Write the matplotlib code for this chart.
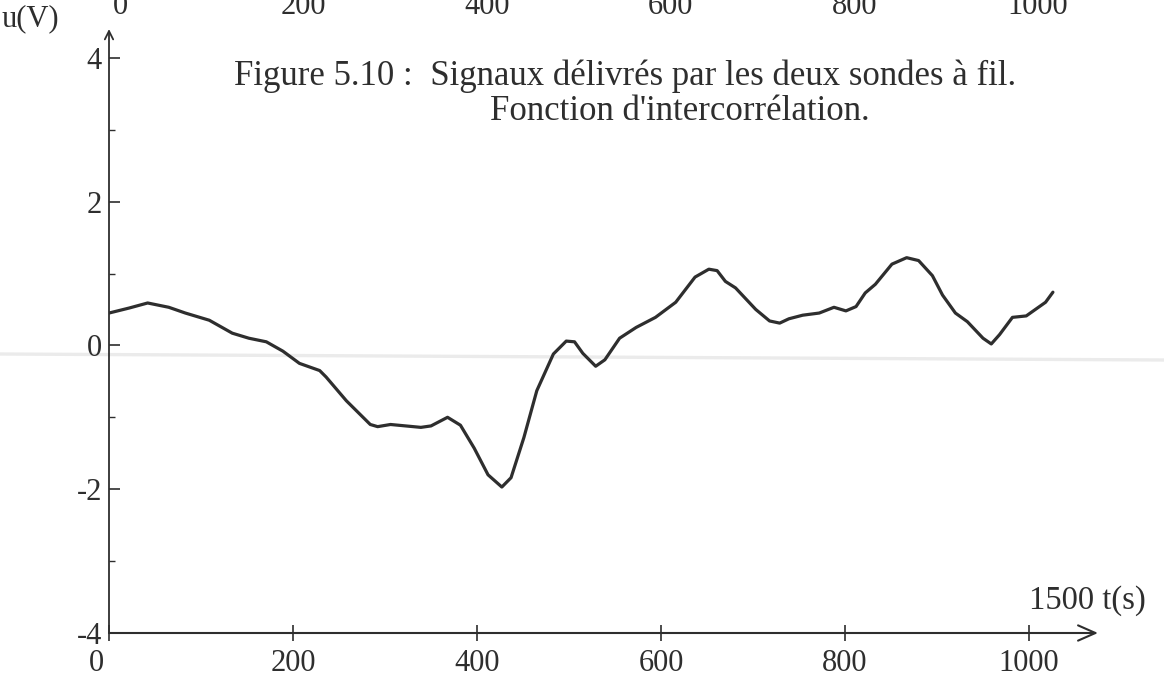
import matplotlib
matplotlib.use("Agg")
import matplotlib.pyplot as plt
from matplotlib.lines import Line2D
from matplotlib.transforms import ScaledTranslation

# Cross-correlation signal u(t) between the two hot-wire probes
t_s = [0, 22, 42, 65, 83, 109, 134, 152, 171, 189, 207, 229, 236, 258, 284,
       292, 306, 339, 350, 368, 382, 397, 412, 427, 437, 451, 465, 483, 497,
       506, 515, 529, 539, 555, 573, 594, 616, 637, 652, 661, 670, 681, 703,
       718, 729, 739, 754, 772, 788, 801, 812, 822, 833, 851, 867, 880, 895,
       906, 920, 933, 950, 959, 968, 982, 997, 1018, 1026]
u_v = [0.45, 0.52, 0.59, 0.53, 0.45, 0.35, 0.17, 0.10, 0.05, -0.08, -0.25,
       -0.35, -0.44, -0.77, -1.10, -1.13, -1.10, -1.14, -1.12, -1.00, -1.11,
       -1.43, -1.80, -1.97, -1.84, -1.28, -0.63, -0.12, 0.06, 0.05, -0.11,
       -0.29, -0.20, 0.10, 0.25, 0.39, 0.60, 0.95, 1.06, 1.04, 0.89, 0.80,
       0.50, 0.34, 0.31, 0.37, 0.42, 0.45, 0.53, 0.48, 0.54, 0.73, 0.85, 1.13,
       1.22, 1.18, 0.97, 0.70, 0.45, 0.33, 0.10, 0.02, 0.15, 0.39, 0.41, 0.60,
       0.74]

x_ticks = [0, 200, 400, 600, 800, 1000]
x_tick_labels = ["0", "200", "400", "600", "800", "1000"]
y_major = [-4, -2, 0, 2, 4]
y_major_labels = ["-4", "-2", "0", "2", "4"]
y_minor = [-3, -1, 1, 3]

title_line1 = "Figure 5.10 :  Signaux délivrés par les deux sondes à fil."
title_line2 = "Fonction d'intercorrélation."
y_label = "u(V)"
x_label = "1500 t(s)"

INK = "#2e2e2e"
FONT = "Liberation Serif"
plt.rcParams["font.family"] = [FONT, "DejaVu Serif"]

W, H = 1164, 694
fig = plt.figure(figsize=(W / 100, H / 100), dpi=100)
fig.patch.set_facecolor("white")

x_max, y_min, y_max = 1075, -4, 4.4
ax = fig.add_axes([109 / W, 61 / H, x_max * 0.92 / W, (y_max - y_min) * 71.9 / H])
ax.set_facecolor("none")
ax.set_xlim(0, x_max)
ax.set_ylim(y_min, y_max)
for s in ax.spines.values():
    s.set_visible(False)

# faint horizontal streak across the page
fig.add_artist(Line2D([0, 1], [1 - 354 / H, 1 - 360 / H], transform=fig.transFigure,
                      color="#ebebeb", lw=2.4, zorder=0))

# axes drawn as arrows
ax.annotate("", xy=(x_max, y_min), xytext=(0, y_min), annotation_clip=False,
            arrowprops=dict(arrowstyle="->,head_length=0.5,head_width=0.22",
                            color=INK, lw=1.5, mutation_scale=25,
                            shrinkA=0, shrinkB=0))
ax.annotate("", xy=(0, y_max), xytext=(0, y_min), annotation_clip=False,
            arrowprops=dict(arrowstyle="->,head_length=0.5,head_width=0.25",
                            color=INK, lw=1.3, mutation_scale=12,
                            shrinkA=0, shrinkB=0))

ax.plot(t_s, u_v, color=INK, lw=2.3, solid_joinstyle="round",
        solid_capstyle="round", zorder=3)

ax.set_xticks(x_ticks)
ax.set_xticklabels(x_tick_labels)
ax.set_yticks(y_major)
ax.set_yticklabels(y_major_labels)
ax.set_yticks(y_minor, minor=True)
ax.tick_params(axis="x", direction="inout", length=11, width=1.2, color=INK,
               labelsize=22, labelcolor=INK, pad=6)
ax.tick_params(axis="y", which="major", direction="in", length=8, width=1.2,
               color=INK, labelsize=22, labelcolor=INK, pad=5)
ax.tick_params(axis="y", which="minor", direction="in", length=4, width=1.0,
               color=INK)
ax.xaxis.get_majorticklabels()[0].set_transform(
    ax.xaxis.get_majorticklabels()[0].get_transform()
    + ScaledTranslation(-13 / 100, 0, fig.dpi_scale_trans))

# axis names
fig.text(30 / W, 1 - 19 / H, y_label, ha="center", va="center", fontsize=22,
         color=INK)
fig.text(1087 / W, 1 - 601 / H, x_label, ha="center", va="center", fontsize=23.5,
         color=INK)

# caption
fig.text(234 / W, 1 - 76 / H, title_line1, ha="left", va="center", fontsize=25,
         color=INK)
fig.text(490 / W, 1 - 111 / H, title_line2, ha="left", va="center", fontsize=25,
         color=INK)

# tick labels of the panel above, cut by the page edge
for xv, lab in zip(x_ticks, x_tick_labels):
    xp = (120 + xv * 0.918) / W
    fig.text(xp, 1 - 14 / H, lab, ha="center", va="baseline", fontsize=22,
             color=INK)

fig.savefig("out.png", dpi=100)
